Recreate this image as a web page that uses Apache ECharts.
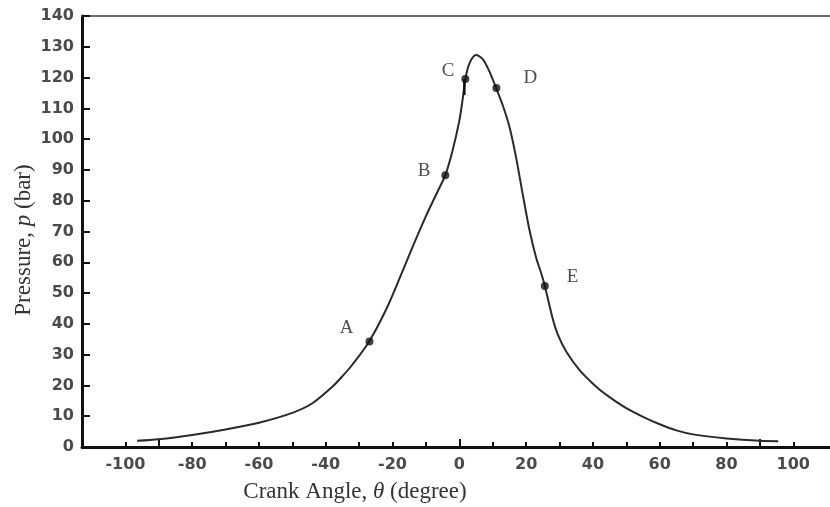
<!DOCTYPE html>
<html>
<head>
<meta charset="utf-8">
<script src="https://cdn.jsdelivr.net/npm/echarts@6/dist/echarts.min.js"></script>
<style>
html,body{margin:0;padding:0;background:#fff;}
#chart{width:830px;height:507px;}
</style>
</head>
<body>
<div id="chart"></div>
<script>
// Pressure curve: [crank angle (deg), pressure (bar)]
const curveAngles = [-96.5,-90,-80,-70,-60,-50,-44,-38,-35,-32,-27,-22,-18,-14,-10,-6.5,-4.2,-2,0,1,1.8,3,5,7,9,11,13,15,17,19,21,23,24.5,25.6,28,29.5,32,36,41,45,50,55,60,65,70,80,90,95.5];
const curvePressures = [2.0,2.5,3.9,5.7,7.9,11.1,14.2,19.6,23,26.8,34.3,44.5,54.5,65,75,83,88.3,96.4,106,113,119.5,124.5,127.3,126,122,116.6,111,104,94,82,70.5,61.5,56.5,52.3,41.5,36.5,31,25,19.6,16.2,12.6,9.8,7.4,5.4,4.1,2.8,2.0,1.9];
// Marked points
const pointNames = ['A','B','C','D','E'];
const pointAngles = [-26.9,-4.2,1.8,11.1,25.6];
const pointPressures = [34.3,88.3,119.5,116.6,52.3];
// short vertical mark under C
const cMarkAngles = [1.5,1.5];
const cMarkPressures = [119.5,114.3];
// ticks
const xTickValues = [-100,-90,-80,-70,-60,-50,-40,-30,-20,-10,0,10,20,30,40,50,60,70,80,90,100];
const xLabelValues = [-100,-80,-60,-40,-20,0,20,40,60,80,100];
const xLongTicks = [-90,0,90];

const curveData = curveAngles.map((a,i)=>[a,curvePressures[i]]);
const cMarkData = cMarkAngles.map((a,i)=>[a,cMarkPressures[i]]);
const labelOffsets = {A:[-7,-13],B:[-6,-4],C:[-2,-8],D:[18,-10],E:[13,-9]};
const labelPos = {A:'left',B:'left',C:'left',D:'right',E:'right'};
const pointData = pointNames.map((n,i)=>({
  value:[pointAngles[i],pointPressures[i]],
  name:n,
  label:{show:true,formatter:n,position:labelPos[n],offset:labelOffsets[n]}
}));

const XMIN=-113, XMAX=111;
const tickFont = {fontFamily:'DejaVu Sans',fontSize:16,fontWeight:'bold',color:'#4a4a4a'};
const serifRich = (sz)=>({
  n:{fontFamily:'Liberation Serif',fontSize:sz,fill:'#333',color:'#333'},
  i:{fontFamily:'Liberation Serif',fontSize:sz,fontStyle:'italic',fill:'#333',color:'#333'}
});

const chart = echarts.init(document.getElementById('chart'),null,{renderer:'canvas'});
chart.setOption({
  backgroundColor:'#ffffff',
  animation:false,
  grid:{left:82,right:0,top:16,bottom:60,containLabel:false,outerBoundsMode:'none'},
  xAxis:[
    {type:'value',position:'bottom',min:XMIN,max:XMAX,
     axisLine:{show:true,onZero:false,lineStyle:{color:'#111',width:3}},
     axisTick:{show:true,inside:true,length:5,lineStyle:{color:'#111',width:2},customValues:xTickValues},
     axisLabel:Object.assign({show:true,margin:10,customValues:xLabelValues},tickFont),
     splitLine:{show:false}},
    {type:'value',position:'top',min:XMIN,max:XMAX,
     axisLine:{show:true,onZero:false,lineStyle:{color:'#6e6e6e',width:2}},
     axisTick:{show:false},axisLabel:{show:false},splitLine:{show:false}},
    {type:'value',position:'bottom',min:XMIN,max:XMAX,
     axisLine:{show:false,onZero:false},
     axisTick:{show:true,inside:true,length:8,lineStyle:{color:'#111',width:2},customValues:xLongTicks},
     axisLabel:{show:false},splitLine:{show:false}}
  ],
  yAxis:{type:'value',min:0,max:140,interval:10,
    axisLine:{show:true,onZero:false,lineStyle:{color:'#111',width:3}},
    axisTick:{show:true,inside:true,length:8,lineStyle:{color:'#111',width:2}},
    axisLabel:Object.assign({margin:8},tickFont),
    splitLine:{show:false}
  },
  graphic:[
    {type:'text',x:355,y:492,
     style:{text:'{n|Crank Angle, }{i|θ}{n| (degree)}',align:'center',verticalAlign:'middle',rich:serifRich(23)}},
    {type:'text',x:24,y:240,rotation:Math.PI/2,
     style:{text:'{n|Pressure, }{i|p}{n| (bar)}',align:'center',verticalAlign:'middle',rich:serifRich(23)}}
  ],
  series:[
    {type:'line',data:curveData,smooth:0.3,showSymbol:false,
     lineStyle:{color:'#2a2a2a',width:2},z:2},
    {type:'line',data:cMarkData,showSymbol:false,
     lineStyle:{color:'#111',width:2.5},z:3},
    {type:'scatter',data:pointData,symbol:'circle',symbolSize:8,
     itemStyle:{color:'#111'},
     label:{fontFamily:'Liberation Serif',fontSize:19,color:'#222'},z:4}
  ]
});
</script>
</body>
</html>
